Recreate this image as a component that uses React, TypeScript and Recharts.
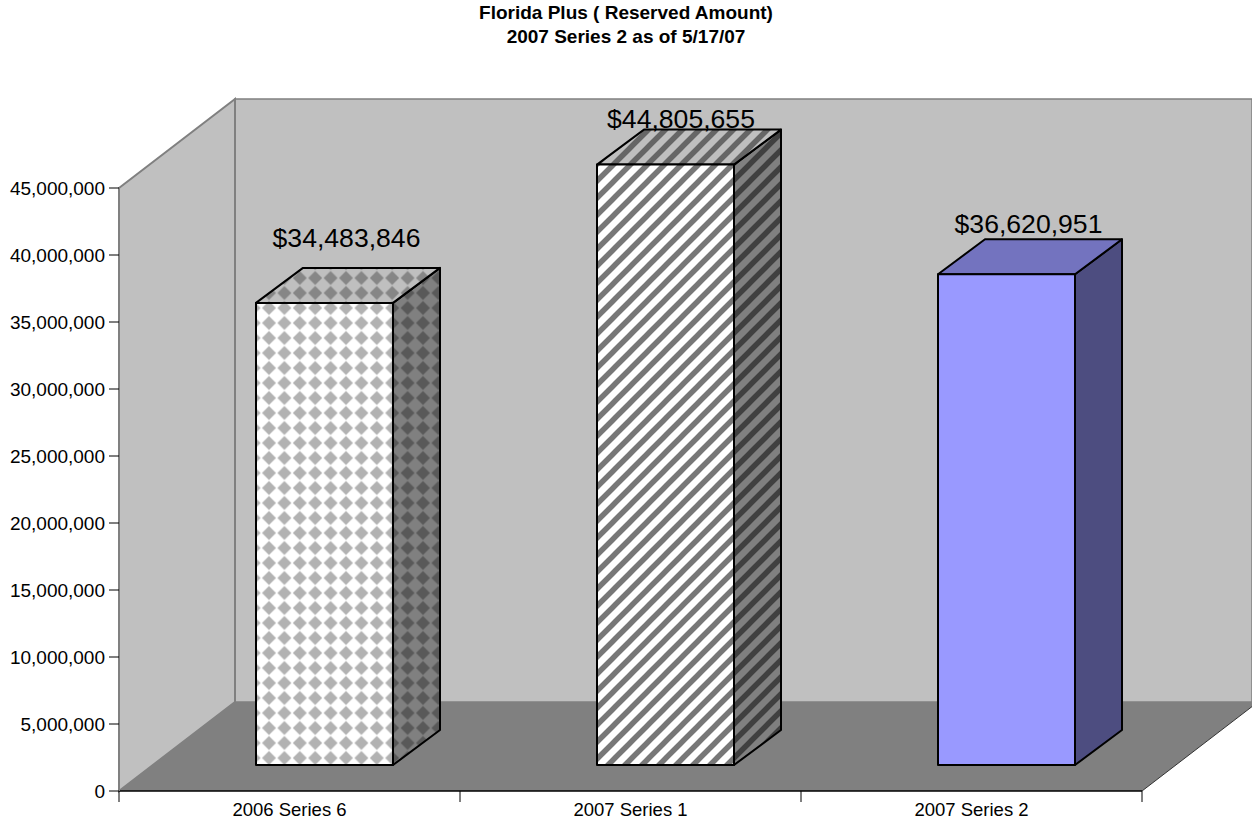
import { Bar, BarChart, CartesianGrid, LabelList, XAxis, YAxis } from "recharts";

const categories = ["2006 Series 6", "2007 Series 1", "2007 Series 2"];
const reserved = [34483846, 44805655, 36620951];
const yTicks = [0, 5000000, 10000000, 15000000, 20000000, 25000000, 30000000, 35000000, 40000000, 45000000];
const titleLines = ["Florida Plus ( Reserved Amount)", "2007 Series 2 as of 5/17/07"];

const rows = categories.map((name, i) => ({ name, reserved: reserved[i] }));

const WIDTH = 1252;
const HEIGHT = 830;
const PLOT_LEFT = 119;
const PLOT_RIGHT = 1142;
const PLOT_TOP = 188;
const PLOT_BOTTOM = 791;
const BAND = (PLOT_RIGHT - PLOT_LEFT) / categories.length;

// floor depth, and where the bars sit on it
const DEPTH_X = 116;
const DEPTH_Y = 89;
const BAR_SHIFT_X = 35;
const BAR_SHIFT_Y = 26;
const BAR_DEPTH_X = 47;
const BAR_DEPTH_Y = 35;

const FONT = '"Liberation Sans", Arial, sans-serif';

// front, top and side fills for each bar
const barFills = [
  { front: "url(#dia-front)", top: "url(#dia-top)", side: "url(#dia-side)" },
  { front: "url(#str-front)", top: "url(#str-top)", side: "url(#str-side)" },
  { front: "#9999ff", top: "#7373bf", side: "#4d4d80" },
];

// data labels do not sit at a constant distance from the bars
const labelShift = [
  { dx: 22, dy: -56 },
  { dx: 15.5, dy: -37 },
  { dx: 22, dy: -41 },
];

function Diamonds({ id, bg, fg }: { id: string; bg: string; fg: string }) {
  return (
    <pattern id={id} patternUnits="userSpaceOnUse" x={261.3} y={300.5} width={15.4} height={15}>
      <rect width={15.4} height={15} fill={bg} />
      <polygon points="7.7,0.6 14.7,7.5 7.7,14.4 0.7,7.5" fill={fg} />
    </pattern>
  );
}

function Stripes({ id, bg, fg }: { id: string; bg: string; fg: string }) {
  return (
    <pattern id={id} patternUnits="userSpaceOnUse" x={597} y={164} width={17} height={17}>
      <rect width={17} height={17} fill={bg} />
      <path d="M-5,5 L5,-5 M-2,19 L19,-2 M12,22 L22,12" stroke={fg} strokeWidth={5.5} />
    </pattern>
  );
}

function Backdrop() {
  return (
    <g>
      <defs>
        <Diamonds id="dia-front" bg="#ffffff" fg="#b2b2b2" />
        <Diamonds id="dia-top" bg="#bfbfbf" fg="#868686" />
        <Diamonds id="dia-side" bg="#808080" fg="#595959" />
        <Stripes id="str-front" bg="#ffffff" fg="#777777" />
        <Stripes id="str-top" bg="#bfbfbf" fg="#666666" />
        <Stripes id="str-side" bg="#808080" fg="#404040" />
      </defs>
      {titleLines.map((line, i) => (
        <text key={line} x={626} y={19 + i * 24} textAnchor="middle" fontFamily={FONT} fontSize={19} fontWeight="bold" fill="#000000">
          {line}
        </text>
      ))}
      {/* back wall */}
      <rect
        x={PLOT_LEFT + DEPTH_X}
        y={PLOT_TOP - DEPTH_Y}
        width={WIDTH - PLOT_LEFT - DEPTH_X}
        height={PLOT_BOTTOM - PLOT_TOP}
        fill="#c0c0c0"
        stroke="#808080"
        strokeWidth={1.5}
      />
      {/* side wall */}
      <polygon
        points={`${PLOT_LEFT},${PLOT_TOP} ${PLOT_LEFT + DEPTH_X},${PLOT_TOP - DEPTH_Y} ${PLOT_LEFT + DEPTH_X},${PLOT_BOTTOM - DEPTH_Y} ${PLOT_LEFT},${PLOT_BOTTOM}`}
        fill="#c0c0c0"
        stroke="#808080"
        strokeWidth={2}
      />
      {/* floor */}
      <polygon
        points={`${PLOT_LEFT},${PLOT_BOTTOM} ${PLOT_LEFT + DEPTH_X},${PLOT_BOTTOM - DEPTH_Y} ${PLOT_RIGHT + DEPTH_X},${PLOT_BOTTOM - DEPTH_Y} ${PLOT_RIGHT},${PLOT_BOTTOM}`}
        fill="#808080"
      />
      <line x1={PLOT_RIGHT} y1={PLOT_BOTTOM} x2={PLOT_RIGHT + DEPTH_X} y2={PLOT_BOTTOM - DEPTH_Y} stroke="#333333" />
    </g>
  );
}

// each horizontal grid line folds along the side wall and runs across the back wall
function WallLine(props: any) {
  const { y1 } = props;
  if (y1 >= PLOT_BOTTOM - 1 || y1 <= PLOT_TOP + 1) return <g key={props.key ?? y1} />;
  return (
    <g key={props.key ?? y1}>
      <line x1={PLOT_LEFT} y1={y1} x2={PLOT_LEFT + DEPTH_X} y2={y1 - DEPTH_Y} stroke="#000000" />
      <line x1={PLOT_LEFT + DEPTH_X} y1={y1 - DEPTH_Y} x2={WIDTH} y2={y1 - DEPTH_Y} stroke="#000000" />
    </g>
  );
}

function Box3D(props: any) {
  const { x, y, width, height, index } = props;
  const fills = barFills[index];
  const l = x + BAR_SHIFT_X;
  const r = l + width;
  const t = y - BAR_SHIFT_Y;
  const b = t + height;
  const dx = BAR_DEPTH_X;
  const dy = BAR_DEPTH_Y;
  const edge = { stroke: "#000000", strokeWidth: 2, strokeLinejoin: "round" as const };
  return (
    <g>
      <polygon points={`${r},${t} ${r + dx},${t - dy} ${r + dx},${b - dy} ${r},${b}`} fill={fills.side} {...edge} />
      <polygon points={`${l},${t} ${l + dx},${t - dy} ${r + dx},${t - dy} ${r},${t}`} fill={fills.top} {...edge} />
      <rect x={l} y={t} width={width} height={height} fill={fills.front} {...edge} />
    </g>
  );
}

function ValueLabel(props: any) {
  const { x, y, width, value, index } = props;
  const shift = labelShift[index];
  return (
    <text
      x={x + BAR_SHIFT_X + width / 2 + shift.dx}
      y={y - BAR_SHIFT_Y + shift.dy}
      textAnchor="middle"
      fontFamily={FONT}
      fontSize={26.6}
      fill="#000000"
    >
      {"$" + Number(value).toLocaleString("en-US")}
    </text>
  );
}

// category ticks sit on the band boundaries, not under the labels
function CategoryTick(props: any) {
  const { x, y, payload, index } = props;
  const left = x - BAND / 2;
  return (
    <g>
      <line x1={left} y1={PLOT_BOTTOM} x2={left} y2={PLOT_BOTTOM + 11} stroke="#000000" />
      {index === categories.length - 1 && (
        <line x1={x + BAND / 2} y1={PLOT_BOTTOM} x2={x + BAND / 2} y2={PLOT_BOTTOM + 11} stroke="#000000" />
      )}
      <text x={x} y={y + 17} textAnchor="middle" fontFamily={FONT} fontSize={18.5} fill="#000000">
        {payload.value}
      </text>
    </g>
  );
}

export default function App() {
  return (
    <div style={{ position: "absolute", left: 0, top: 0, width: WIDTH, height: HEIGHT, background: "#ffffff" }}>
      <BarChart
        width={WIDTH}
        height={HEIGHT}
        data={rows}
        margin={{ top: PLOT_TOP, right: WIDTH - PLOT_RIGHT, bottom: 0, left: 0 }}
        barCategoryGap={0}
      >
        <Backdrop />
        <CartesianGrid vertical={false} horizontal={WallLine} />
        <XAxis
          dataKey="name"
          height={HEIGHT - PLOT_BOTTOM}
          axisLine={{ stroke: "#000000", strokeWidth: 1.5 }}
          tickLine={false}
          tick={<CategoryTick />}
          interval={0}
        />
        <YAxis
          width={PLOT_LEFT}
          domain={[0, 45000000]}
          ticks={yTicks}
          interval={0}
          tickSize={10}
          tickMargin={4}
          axisLine={{ stroke: "#808080", strokeWidth: 2 }}
          tickLine={{ stroke: "#000000" }}
          tick={{ fill: "#000000", fontFamily: FONT, fontSize: 19 }}
          tickFormatter={(v: number) => v.toLocaleString("en-US")}
        />
        <Bar dataKey="reserved" barSize={137} shape={<Box3D />} isAnimationActive={false}>
          <LabelList dataKey="reserved" content={<ValueLabel />} />
        </Bar>
      </BarChart>
    </div>
  );
}
